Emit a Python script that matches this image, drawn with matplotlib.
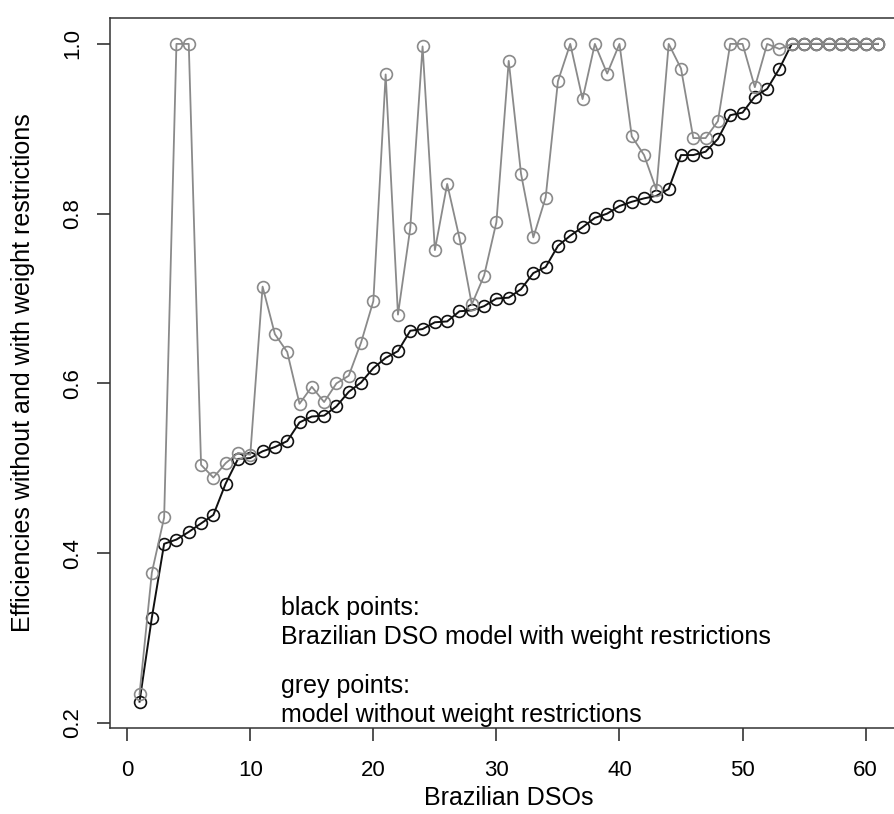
"""Efficiencies of Brazilian DSOs with and without weight restrictions."""

import numpy as np
import matplotlib
matplotlib.use("Agg")
import matplotlib.pyplot as plt

plt.rcParams["font.family"] = ["Liberation Sans", "DejaVu Sans"]

# efficiencies with weight restrictions (black), sorted
with_wr = [0.225, 0.324, 0.411, 0.416, 0.425, 0.435, 0.445, 0.482, 0.511, 0.512,
           0.520, 0.525, 0.532, 0.554, 0.561, 0.562, 0.573, 0.590, 0.601, 0.618,
           0.630, 0.638, 0.662, 0.664, 0.672, 0.673, 0.685, 0.686, 0.691, 0.700,
           0.701, 0.711, 0.730, 0.737, 0.762, 0.774, 0.784, 0.795, 0.800, 0.809,
           0.814, 0.818, 0.821, 0.829, 0.869, 0.869, 0.873, 0.888, 0.916, 0.919,
           0.938, 0.947, 0.971, 1.0, 1.0, 1.0, 1.0, 1.0, 1.0, 1.0, 1.0]
# efficiencies without weight restrictions (grey)
without_wr = [0.234, 0.377, 0.442, 1.0, 1.0, 0.504, 0.489, 0.506, 0.518, 0.516,
              0.714, 0.658, 0.637, 0.576, 0.596, 0.578, 0.600, 0.609, 0.648, 0.697,
              0.964, 0.681, 0.783, 0.997, 0.757, 0.835, 0.771, 0.693, 0.727, 0.790,
              0.980, 0.847, 0.772, 0.819, 0.956, 1.0, 0.935, 1.0, 0.965, 1.0,
              0.891, 0.869, 0.828, 1.0, 0.971, 0.889, 0.889, 0.909, 1.0, 1.0,
              0.949, 1.0, 0.994, 1.0, 1.0, 1.0, 1.0, 1.0, 1.0, 1.0, 1.0]
dso = np.arange(1, len(with_wr) + 1)

xticks = [0, 10, 20, 30, 40, 50, 60]
yticks = [0.2, 0.4, 0.6, 0.8, 1.0]

fig = plt.figure(figsize=(8.95, 8.14), dpi=100)
ax = fig.add_axes([0.1229, 0.1057, 0.891, 0.8727])

ax.plot(dso, with_wr, color="#111111", lw=1.4, marker="o", ms=8.5,
        mfc="none", mec="#111111", mew=1.2)
ax.plot(dso, without_wr, color="#8a8a8a", lw=1.3, marker="o", ms=8.5,
        mfc="none", mec="#8a8a8a", mew=1.2)

ax.set_xlim(-1.4, 63.4)
ax.set_ylim(0.194, 1.031)
ax.set_xticks(xticks)
ax.set_yticks(yticks)
ax.set_xticklabels([str(t) for t in xticks], fontsize=16)
ax.set_yticklabels([f"{t:.1f}" for t in yticks], fontsize=16,
                   rotation=90, va="center")
ax.tick_params(axis="both", length=9.4, width=1.1, color="#222222")
ax.tick_params(axis="x", pad=14)
ax.tick_params(axis="y", pad=10)
for s in ax.spines.values():
    s.set_linewidth(1.1)
    s.set_color("#333333")

ax.set_xlabel("Brazilian DSOs", fontsize=18, va="baseline")
ax.xaxis.set_label_coords(0.5, -0.1084)
ax.set_ylabel("Efficiencies without and with weight restrictions",
              fontsize=18, va="center")
ax.yaxis.set_label_coords(-0.109, 0.5)

note_x = 12.46
ax.text(note_x, 0.327, "black points:", fontsize=18, va="baseline")
ax.text(note_x, 0.293, "Brazilian DSO model with weight restrictions",
        fontsize=18, va="baseline")
ax.text(note_x, 0.235, "grey points:", fontsize=18, va="baseline")
ax.text(note_x, 0.201, "model without weight restrictions",
        fontsize=18, va="baseline")

fig.savefig("out.png", dpi=100)
